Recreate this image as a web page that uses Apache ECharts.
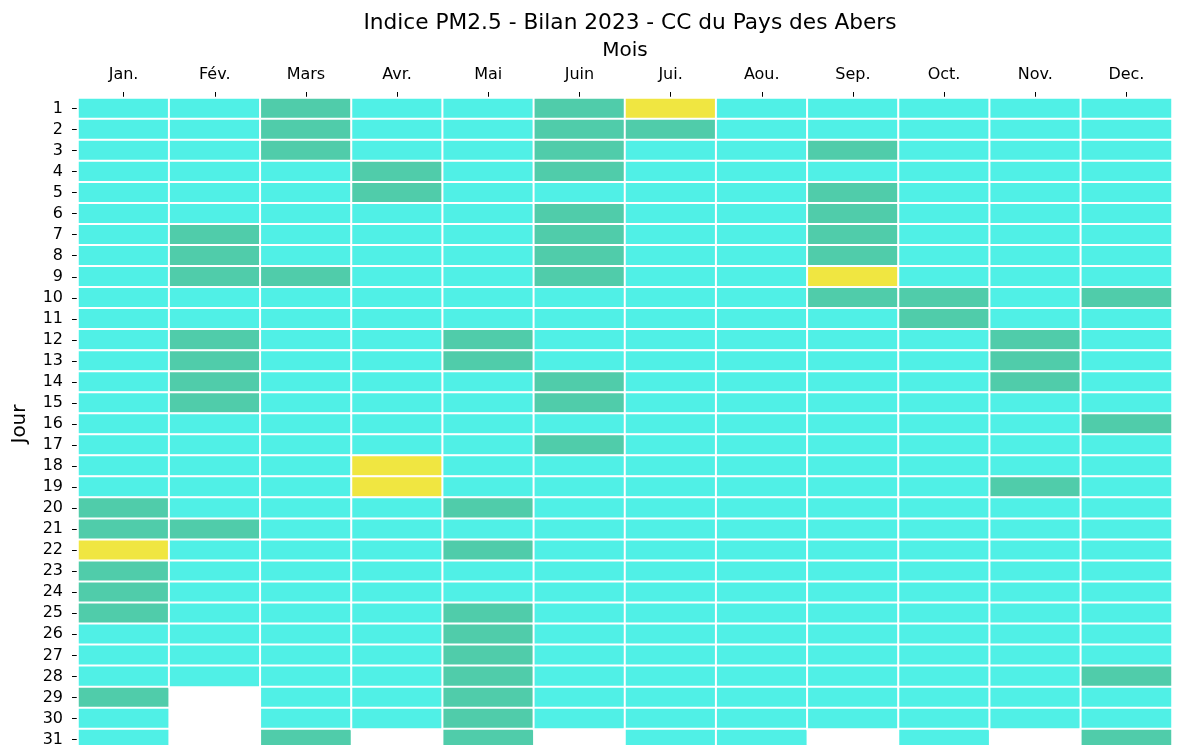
<!DOCTYPE html>
<html>
<head>
<meta charset="utf-8">
<script src="https://cdn.jsdelivr.net/npm/echarts@6/dist/echarts.min.js"></script>
<style>
  html, body { margin: 0; padding: 0; background: #fff; }
  #chart { width: 1204px; height: 745px; }
</style>
</head>
<body>
<div id="chart"></div>
<script>
// indice : 1 = bon, 2 = moyen, 3 = dégradé, null = jour inexistant
const months = ['Jan.', 'Fév.', 'Mars', 'Avr.', 'Mai', 'Juin', 'Jui.', 'Aou.', 'Sep.', 'Oct.', 'Nov.', 'Dec.']
const days = Array.from({ length: 31 }, (_, i) => String(i + 1))

const jan = [1,1,1,1,1,1,1,1,1,1, 1,1,1,1,1,1,1,1,1,2, 2,3,2,2,2,1,1,1,2,1, 1]
const fev = [1,1,1,1,1,1,2,2,2,1, 1,2,2,2,2,1,1,1,1,1, 2,1,1,1,1,1,1,1,null,null, null]
const mars = [2,2,2,1,1,1,1,1,2,1, 1,1,1,1,1,1,1,1,1,1, 1,1,1,1,1,1,1,1,1,1, 2]
const avr = [1,1,1,2,2,1,1,1,1,1, 1,1,1,1,1,1,1,3,3,1, 1,1,1,1,1,1,1,1,1,1, null]
const mai = [1,1,1,1,1,1,1,1,1,1, 1,2,2,1,1,1,1,1,1,2, 1,2,1,1,2,2,2,2,2,2, 2]
const juin = [2,2,2,2,1,2,2,2,2,1, 1,1,1,2,2,1,2,1,1,1, 1,1,1,1,1,1,1,1,1,1, null]
const juil = [3,2,1,1,1,1,1,1,1,1, 1,1,1,1,1,1,1,1,1,1, 1,1,1,1,1,1,1,1,1,1, 1]
const aou = [1,1,1,1,1,1,1,1,1,1, 1,1,1,1,1,1,1,1,1,1, 1,1,1,1,1,1,1,1,1,1, 1]
const sep = [1,1,2,1,2,2,2,2,3,2, 1,1,1,1,1,1,1,1,1,1, 1,1,1,1,1,1,1,1,1,1, null]
const oct = [1,1,1,1,1,1,1,1,1,2, 2,1,1,1,1,1,1,1,1,1, 1,1,1,1,1,1,1,1,1,1, 1]
const nov = [1,1,1,1,1,1,1,1,1,1, 1,2,2,2,1,1,1,1,2,1, 1,1,1,1,1,1,1,1,1,1, null]
const dec = [1,1,1,1,1,1,1,1,1,2, 1,1,1,1,1,2,1,1,1,1, 1,1,1,1,1,1,1,2,1,1, 2]

const monthValues = [jan, fev, mars, avr, mai, juin, juil, aou, sep, oct, nov, dec]

const data = []
monthValues.forEach((vals, m) => {
  vals.forEach((v, d) => {
    if (v !== null) data.push([m, d, v])
  })
})

const chart = echarts.init(document.getElementById('chart'))
const font = 'DejaVu Sans'

const option = {
  animation: false,
  textStyle: { fontFamily: font },
  title: {
    text: 'Indice PM2.5 - Bilan 2023 - CC du Pays des Abers',
    left: 625,
    textAlign: 'center',
    top: 7,
    textStyle: { fontFamily: font, fontSize: 21.7, fontWeight: 'normal', color: '#000' },
  },
  grid: {
    left: 78,
    right: 32,
    top: 98,
    height: 652,
    outerBoundsMode: 'none',
  },
  xAxis: {
    type: 'category',
    position: 'top',
    data: months,
    name: 'Mois',
    nameLocation: 'middle',
    nameGap: 37,
    nameTextStyle: { fontFamily: font, fontSize: 20, color: '#000' },
    axisLine: { show: false },
    axisTick: { show: true, alignWithLabel: true, length: 6, lineStyle: { color: '#000', width: 1 } },
    axisLabel: { fontFamily: font, fontSize: 16, color: '#000', margin: 15 },
    splitLine: { show: false },
  },
  yAxis: {
    type: 'category',
    inverse: true,
    data: days,
    name: 'Jour',
    nameLocation: 'middle',
    nameGap: 48,
    nameRotate: 90,
    nameTextStyle: { fontFamily: font, fontSize: 20, color: '#000' },
    axisLine: { show: false },
    axisTick: { show: true, alignWithLabel: true, length: 6, lineStyle: { color: '#000', width: 1 } },
    axisLabel: { fontFamily: font, fontSize: 16, color: '#000', margin: 15 },
    splitLine: { show: false },
  },
  visualMap: {
    show: false,
    type: 'piecewise',
    dimension: 2,
    pieces: [
      { value: 1, color: '#50F0E6' },
      { value: 2, color: '#50CCAA' },
      { value: 3, color: '#F0E641' },
    ],
  },
  series: [
    {
      type: 'heatmap',
      data: data,
      itemStyle: { borderColor: '#fff', borderWidth: 2 },
      emphasis: { disabled: true },
    },
  ],
}

chart.setOption(option)
</script>
</body>
</html>
